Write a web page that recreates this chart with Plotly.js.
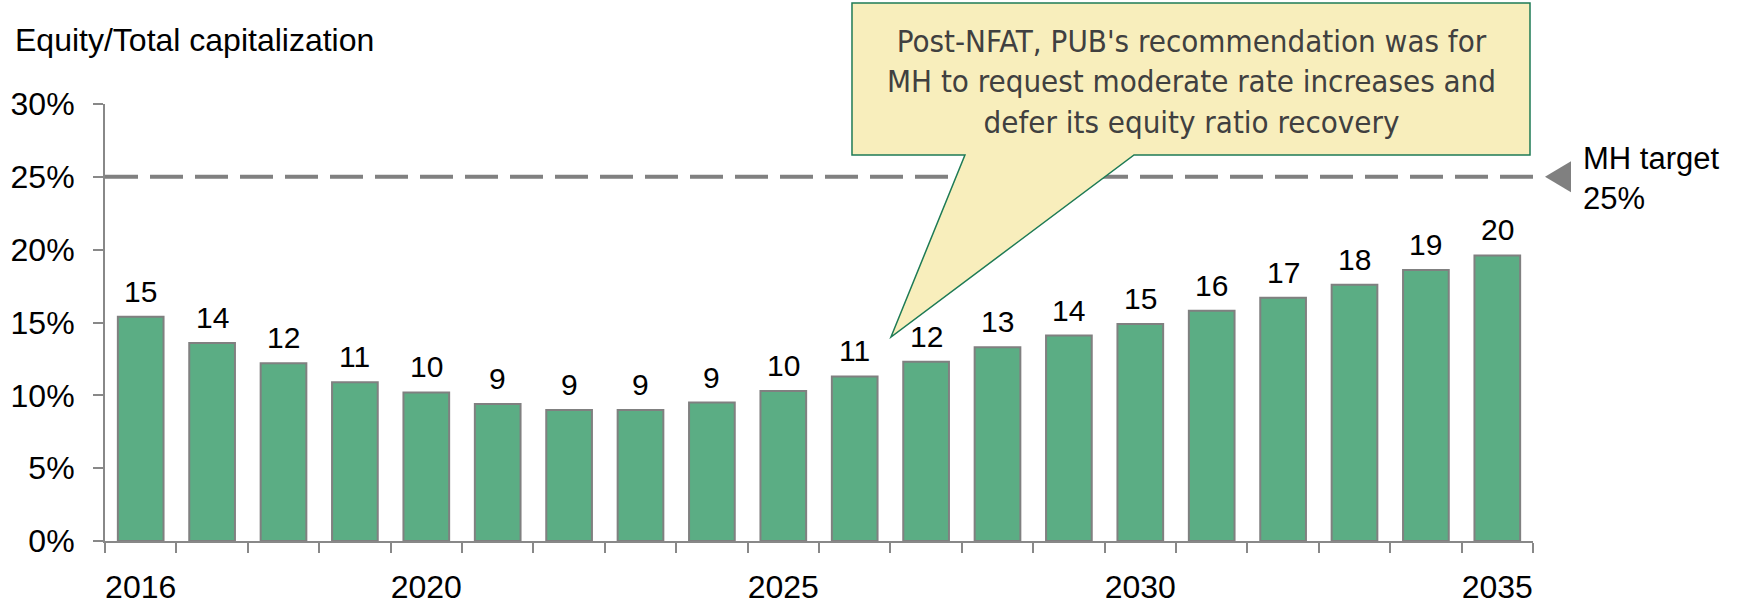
<!DOCTYPE html>
<html><head><meta charset="utf-8">
<script src="https://cdn.plot.ly/plotly-3.0.1.min.js"></script>
<style>html,body{margin:0;padding:0;background:#fff}#chart{width:1746px;height:606px}</style>
</head><body><div id="chart"></div>
<script>
// ---- data ----
const years = [2016,2017,2018,2019,2020,2021,2022,2023,2024,2025,2026,2027,2028,2029,2030,2031,2032,2033,2034,2035];
const equityRatio = [15.4,13.6,12.2,10.9,10.2,9.4,9.0,9.0,9.5,10.3,11.3,12.3,13.3,14.1,14.9,15.8,16.7,17.6,18.6,19.6];
const barLabels = ['15','14','12','11','10','9','9','9','9','10','11','12','13','14','15','16','17','18','19','20'];
const targetRatio = 25;
const yTickVals = [0,5,10,15,20,25,30];
const yTickText = ['0%','5%','10%','15%','20%','25%','30%'];
const xTickYears = [2016,2020,2025,2030,2035];
const xTickText = ['2016','2020','2025','2030','2035'];
const chartTitle = 'Equity/Total capitalization';
const targetLabel = 'MH target<br>25%';
const calloutText = "Post-NFAT, PUB's recommendation was for<br>MH to request moderate rate increases and<br>defer its equity ratio recovery";

// ---- layout helpers (pixel -> paper) ----
const W = 1746, H = 606;
const M = {l:105, r:213, t:104, b:65};
const PW = W - M.l - M.r, PH = H - M.t - M.b;
const px = x => (x - M.l) / PW;
const py = y => (H - M.b - y) / PH;

const FONT = 'Liberation Sans, Arial, sans-serif';
const NARROW = 'Liberation Sans Narrow, Arial Narrow, DejaVu Sans Condensed, sans-serif';
const GREY = '#888888';

const trace = {
  type: 'bar', x: years, y: equityRatio, width: 0.64,
  marker: {color: '#5BAD84', line: {color: '#808080', width: 2}},
  hoverinfo: 'x+y', showlegend: false
};

const annotations = years.map((yr, i) => ({
  x: yr, y: equityRatio[i], xref: 'x', yref: 'y', text: barLabels[i],
  showarrow: false, yanchor: 'bottom', yshift: 7,
  font: {family: FONT, size: 30, color: '#000'}
}));
annotations.push({
  xref: 'paper', yref: 'paper', x: px(13), y: py(40), xanchor: 'left', yanchor: 'middle',
  text: chartTitle, showarrow: false, font: {family: FONT, size: 32, color: '#000'}
});
annotations.push({
  xref: 'paper', yref: 'y', x: px(1581), y: targetRatio, xanchor: 'left', yanchor: 'middle', yshift: -2,
  text: targetLabel, align: 'left', showarrow: false, font: {family: FONT, size: 31, color: '#000'}
});
annotations.push({
  xref: 'paper', yref: 'paper', x: px(1191), y: py(81), xanchor: 'center', yanchor: 'middle',
  text: calloutText, align: 'center', showarrow: false, font: {family: NARROW, size: 31, color: '#404040'}
});

const calloutPath = [
  [852,3],[1530,3],[1530,155],[1134,155],[891,337],[965,155],[852,155]
].map((p, i) => (i ? 'L' : 'M') + px(p[0]).toFixed(4) + ',' + py(p[1]).toFixed(4)).join(' ') + ' Z';

const tri = `M ${px(1545).toFixed(4)},${targetRatio} L ${px(1571).toFixed(4)},${targetRatio + 15.5 * 30 / PH} L ${px(1571).toFixed(4)},${targetRatio - 15.5 * 30 / PH} Z`;

const shapes = [
  {type: 'line', xref: 'paper', yref: 'y', x0: 0, x1: 1, y0: targetRatio, y1: targetRatio,
   line: {color: '#808080', width: 4, dash: '33px,12px'}, layer: 'above'},
  {type: 'path', xref: 'paper', yref: 'y', path: tri, fillcolor: '#808080', line: {width: 0}, layer: 'above'},
  {type: 'path', xref: 'paper', yref: 'paper', path: calloutPath, fillcolor: '#F8EEBC',
   line: {color: '#1E7B55', width: 1.5}, layer: 'above'}
];

const layout = {
  width: W, height: H, margin: M, paper_bgcolor: '#fff', plot_bgcolor: '#fff',
  font: {family: FONT, size: 32, color: '#000'},
  xaxis: {
    range: [2015.5, 2035.5], tickmode: 'array', tickvals: xTickYears, ticktext: xTickText,
    ticks: '', showgrid: false, zeroline: false, showline: true, linecolor: GREY, linewidth: 2,
    ticklabelstandoff: 17, tickfont: {family: FONT, size: 32, color: '#000'},
    minor: {tickmode: 'linear', tick0: 2015.5, dtick: 1, ticks: 'outside', ticklen: 10, tickcolor: GREY, tickwidth: 2, showgrid: false}
  },
  yaxis: {
    range: [0, 30], tickmode: 'array', tickvals: yTickVals, ticktext: yTickText,
    ticks: 'outside', ticklen: 10, tickcolor: GREY, tickwidth: 2,
    showgrid: false, zeroline: false, showline: true, linecolor: GREY, linewidth: 2,
    ticklabelstandoff: 12, tickfont: {family: FONT, size: 32, color: '#000'}
  },
  annotations, shapes, showlegend: false
};

Plotly.newPlot('chart', [trace], layout, {staticPlot: true});
</script></body></html>
